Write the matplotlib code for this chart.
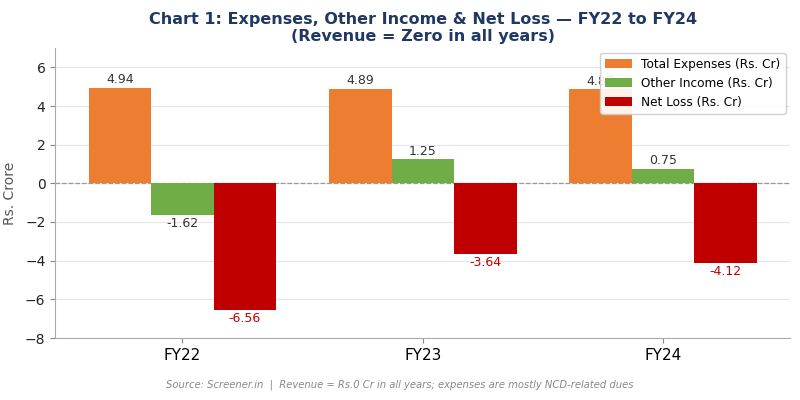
import numpy as np
import matplotlib
matplotlib.use("Agg")
import matplotlib.pyplot as plt

# ---- data ----
years = ["FY22", "FY23", "FY24"]
total_expenses = [4.94, 4.89, 4.87]
other_income = [-1.62, 1.25, 0.75]
net_loss = [-6.56, -3.64, -4.12]

series_names = ["Total Expenses (Rs. Cr)", "Other Income (Rs. Cr)", "Net Loss (Rs. Cr)"]
colors = ["#ED7D31", "#70AD47", "#C00000"]

fig, ax = plt.subplots(figsize=(8, 4), dpi=100)
x = np.arange(len(years))
w = 0.26

for i, (vals, name, c) in enumerate(zip([total_expenses, other_income, net_loss], series_names, colors)):
    bars = ax.bar(x + (i - 1) * w, vals, w, color=c, label=name, zorder=3)
    for b, v in zip(bars, vals):
        txt_color = "#C00000" if i == 2 else "#333333"
        if v >= 0:
            ax.annotate(f"{v:.2f}", (b.get_x() + b.get_width() / 2, v), xytext=(0, 1),
                        textcoords="offset points", ha="center", va="bottom",
                        fontsize=9, color=txt_color, zorder=4)
        else:
            ax.annotate(f"{v:.2f}", (b.get_x() + b.get_width() / 2, v), xytext=(0, -1.5),
                        textcoords="offset points", ha="center", va="top",
                        fontsize=9, color=txt_color, zorder=4)

ax.axhline(0, color="#999999", linestyle="--", linewidth=0.9, zorder=2)
ax.set_ylim(-8, 7)
ax.set_xticks(x)
ax.set_xticklabels(years, fontsize=11)
ax.tick_params(axis="y", labelsize=10, colors="#222222")
ax.tick_params(axis="both", color="#888888")
ax.set_ylabel("Rs. Crore", color="#555555", fontsize=10, labelpad=6)
ax.grid(axis="y", color="#e6e6e6", linewidth=0.8, zorder=0)
for s in ["top", "right"]:
    ax.spines[s].set_visible(False)
for s in ["left", "bottom"]:
    ax.spines[s].set_color("#aaaaaa")

ax.set_title("Chart 1: Expenses, Other Income & Net Loss \u2014 FY22 to FY24\n(Revenue = Zero in all years)",
             fontsize=11.5, fontweight="bold", color="#1F3864", pad=5)
leg = ax.legend(loc="upper right", fontsize=8.7, framealpha=0.9, borderaxespad=0.4,
                handlelength=2.2)
leg.set_zorder(5)

fig.text(0.5, 0.0375, "Source: Screener.in  |  Revenue = Rs.0 Cr in all years; expenses are mostly NCD-related dues",
         ha="center", va="center", fontsize=7.2, color="#888888", style="italic")

fig.subplots_adjust(left=0.069, right=0.988, top=0.88, bottom=0.155)
fig.savefig("out.png", dpi=100)
